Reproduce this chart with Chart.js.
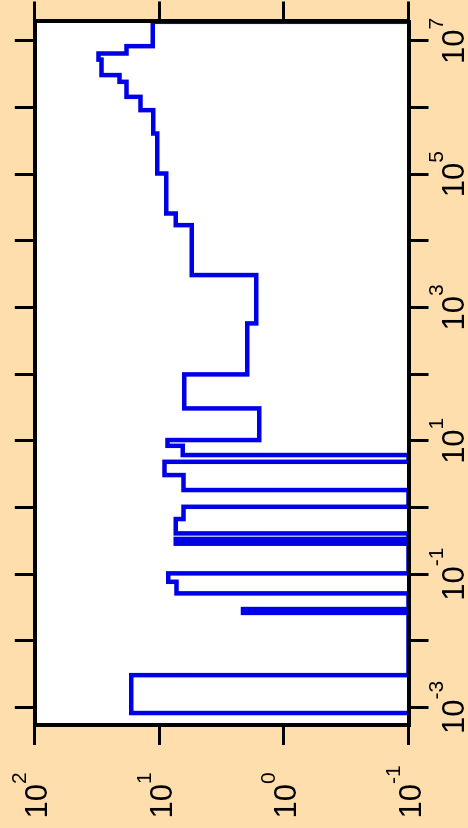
<!DOCTYPE html>
<html>
<head>
<meta charset="utf-8">
<script src="https://cdn.jsdelivr.net/npm/chart.js@4.4.0/dist/chart.umd.min.js"></script>
<style>
html, body { margin:0; padding:0; width:468px; height:828px; overflow:hidden; background:#FFDEAD; }
#wrap { position:absolute; left:0; top:0; width:828px; height:468px;
        transform-origin:0 0; transform:translate(0px, 828px) rotate(-90deg); }
canvas { display:block; }
</style>
</head>
<body>
<div id="wrap"><canvas id="c" width="828" height="468"></canvas></div>
<script>
// ---- data ----
// bin boundaries along the horizontal (log) axis of the unrotated plot
const binEdges = [8.24e-4, 3.05e-3, 2.62e-2, 2.74e-2, 2.86e-2, 2.99e-2, 5.14e-2, 7.67e-2,
  0.1026, 0.286, 0.302, 0.318, 0.337, 0.408, 0.670, 1.023, 1.824, 3.06, 4.84, 6.11, 8.41,
  10.26, 30.6, 99.1, 577, 3062, 17180, 25700, 102300, 407400, 912000, 1445000, 2427000,
  3062000, 5224000, 6457000, 8318000, 1.93e7];
// height of each bin (0 = empty bin)
const binValues = [16.8, 0, 2.13, 0, 2.13, 0, 7.3, 8.5, 0, 7.4, 0, 7.4, 0, 7.4, 6.4, 0,
  6.4, 9.1, 0, 6.5, 8.6, 1.58, 6.3, 1.97, 1.67, 5.5, 7.4, 8.8, 10.4, 11.2, 14.2, 18.4,
  20.9, 29.2, 30.8, 18.4, 11.3];
// axis ranges and ticks
const xRange = [5.45e-4, 1.95e7];
const yRange = [0.1, 100];
const xTickExponents = [-3, -2, -1, 0, 1, 2, 3, 4, 5, 6, 7];
const xLabelExponents = [-3, -1, 1, 3, 5, 7];
const yTickExponents = [-1, 0, 1, 2];
const yLabelExponents = [-1, 0, 1, 2];

// ---- build step polyline from the bins ----
const floorVal = yRange[0];
const pts = [{x: binEdges[0], y: floorVal}];
for (let i = 0; i < binValues.length; i++) {
  pts.push({x: binEdges[i], y: Math.max(binValues[i], floorVal)});
}
pts.push({x: binEdges[binEdges.length - 1], y: floorVal});

const MAIN_FONT = '31px "Liberation Sans", Arial, sans-serif';
const SUP_FONT = '21px "Liberation Sans", Arial, sans-serif';
const SUP_RAISE = 21;

const bgPlugin = {
  id: 'plotBg',
  beforeDraw(chart) {
    const a = chart.chartArea, ctx = chart.ctx;
    ctx.save();
    ctx.fillStyle = '#FFFFFF';
    ctx.fillRect(a.left, a.top, a.right - a.left, a.bottom - a.top);
    ctx.restore();
  }
};

const powLabels = {
  id: 'powLabels',
  afterDraw(chart) {
    const ctx = chart.ctx;
    const xs = chart.scales.x, ys = chart.scales.y;
    ctx.save();
    ctx.fillStyle = '#000';
    ctx.textBaseline = 'alphabetic';
    ctx.textAlign = 'left';
    const widths = (e) => {
      ctx.font = MAIN_FONT; const w1 = ctx.measureText('10').width;
      ctx.font = SUP_FONT; const w2 = ctx.measureText(String(e)).width;
      return [w1, w2];
    };
    const drawPow = (e, x0, base) => {
      const [w1] = widths(e);
      ctx.font = MAIN_FONT; ctx.fillText('10', x0, base);
      ctx.font = SUP_FONT; ctx.fillText(String(e), x0 + w1, base - SUP_RAISE);
    };
    xLabelExponents.forEach(e => {
      const px = xs.getPixelForValue(Math.pow(10, e));
      const [w1, w2] = widths(e);
      drawPow(e, px - (w1 + w2) / 2, 464);
    });
    yLabelExponents.forEach(e => {
      const py = ys.getPixelForValue(Math.pow(10, e));
      drawPow(e, 9.5, py + 12.5);
    });
    ctx.restore();
  }
};

const gridOpts = {drawOnChartArea: false, drawTicks: true, tickLength: 20, color: '#000', lineWidth: 3};
const borderOpts = {display: true, color: '#000', width: 4, z: 1};

function axis(position, range, exps, size) {
  return {
    type: 'logarithmic', position: position, min: range[0], max: range[1], bounds: 'data',
    grid: gridOpts, border: borderOpts,
    ticks: {display: false},
    afterBuildTicks: (s) => { s.ticks = exps.map(e => ({value: Math.pow(10, e)})); },
    afterFit: (s) => {
      if (position === 'top' || position === 'bottom') s.height = size; else s.width = size;
    }
  };
}

new Chart(document.getElementById('c'), {
  type: 'line',
  data: {
    datasets: [{
      data: pts,
      xAxisID: 'x', yAxisID: 'y',
      borderColor: '#0000E8',
      borderWidth: 4.5,
      pointRadius: 0,
      fill: false,
      stepped: 'before',
      tension: 0,
      clip: {left: 0, top: 0, right: 4, bottom: 0}
    }]
  },
  options: {
    responsive: false,
    devicePixelRatio: 1,
    animation: false,
    layout: {padding: 0},
    plugins: {legend: {display: false}, tooltip: {enabled: false}, title: {display: false}},
    scales: {
      x: axis('bottom', xRange, xTickExponents, 59.5),
      x2: axis('top', xRange, xTickExponents, 34.8),
      y: axis('left', yRange, yTickExponents, 103),
      y2: axis('right', yRange, yTickExponents, 21.5)
    }
  },
  plugins: [bgPlugin, powLabels]
});
</script>
</body>
</html>
